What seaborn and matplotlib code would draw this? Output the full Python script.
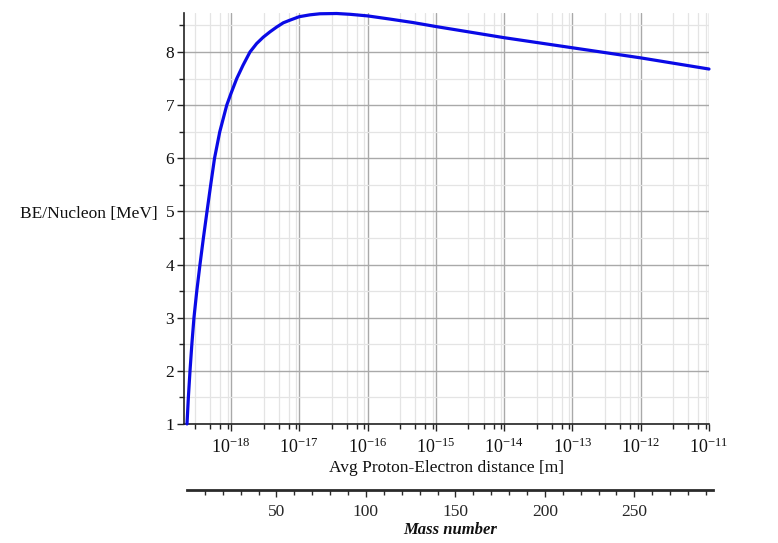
import numpy as np
import pandas as pd
import matplotlib
matplotlib.use("Agg")
import matplotlib.pyplot as plt
import seaborn as sns

# data (log10 of distance in m, BE per nucleon in MeV)
log_distance = [-18.644, -18.624, -18.600, -18.573, -18.542, -18.501, -18.454,
                -18.404, -18.351, -18.297, -18.241, -18.164, -18.062, -18.0,
                -17.916, -17.824, -17.722, -17.624, -17.527, -17.429, -17.331,
                -17.234, -17.136, -17.0, -16.843, -16.697, -16.452, -16.257,
                -16.0, -15.672, -15.335, -15.0, -14.5, -14.0, -13.5, -13.0,
                -12.5, -12.0, -11.5, -11.0]
be_per_nucleon = [1.0, 1.5, 2.0, 2.5, 3.0, 3.5, 4.0,
                  4.5, 5.0, 5.5, 6.0, 6.5, 7.0, 7.22,
                  7.5, 7.75, 8.0, 8.16, 8.28, 8.38, 8.47,
                  8.55, 8.60, 8.665, 8.70, 8.72, 8.725, 8.71,
                  8.68, 8.62, 8.555, 8.48, 8.375, 8.27, 8.175, 8.08,
                  7.985, 7.89, 7.785, 7.68]

decades = [-18, -17, -16, -15, -14, -13, -12, -11]
decade_labels = [r"$\mathrm{10^{-%d}}$" % abs(d) for d in decades]
y_ticks = [1, 2, 3, 4, 5, 6, 7, 8]
mass_ticks = [50, 100, 150, 200, 250]

sns.set_theme(style="white")
plt.rcParams["font.family"] = ["Liberation Serif", "DejaVu Serif"]
plt.rcParams["mathtext.fontset"] = "custom"
plt.rcParams["mathtext.rm"] = "Liberation Serif"
plt.rcParams["mathtext.it"] = "Liberation Serif:italic"

df = pd.DataFrame({"distance": np.power(10.0, log_distance), "be": be_per_nucleon})

fig = plt.figure(figsize=(7.78, 5.43), dpi=100)
ax = fig.add_axes([0.2365, 0.2192, 0.6748, 0.7574])

sns.lineplot(data=df, x="distance", y="be", ax=ax, color="#0a0ae6",
             linewidth=2.3, estimator=None, sort=False, zorder=5)
ax.lines[-1].set_solid_joinstyle("round")
ax.lines[-1].set_clip_on(False)

ax.set_xscale("log")
ax.set_xlim(10 ** -18.688, 1e-11)
ax.set_ylim(1, 8.74)

# ticks
minor_x = [m * 10.0 ** d for d in range(-19, -11) for m in (3, 5, 7, 9)]
minor_x = [v for v in minor_x if 10 ** -18.688 < v < 1e-11]
ax.set_xticks([10.0 ** d for d in decades], decade_labels)
ax.set_xticks(minor_x, minor=True)
ax.set_yticks(y_ticks, [str(t) for t in y_ticks])
ax.set_yticks(np.arange(1.5, 8.6, 1.0), minor=True)
ax.tick_params(axis="both", which="major", direction="out", length=5, width=1.0,
               color="#222222", labelsize=12.5, colors="#111111")
ax.tick_params(axis="both", which="minor", direction="out", length=3.5, width=1.0,
               color="#222222")
ax.tick_params(axis="x", which="both", bottom=True, pad=5)
ax.tick_params(axis="x", which="major", labelsize=13)
ax.tick_params(axis="y", which="both", left=True, pad=2)

# grid
ax.grid(True, which="minor", color="#e4e4e4", linewidth=0.9, zorder=0)
ax.grid(True, which="major", color="#a9a9a9", linewidth=1.0, zorder=1)
ax.set_axisbelow(True)

for s in ("top", "right"):
    ax.spines[s].set_visible(False)
for s in ("left", "bottom"):
    ax.spines[s].set_color("#222222")
    ax.spines[s].set_linewidth(1.2)

ax.set_xlabel("Avg Proton-Electron distance [m]", fontsize=12.5, labelpad=2, color="#111111")
ax.set_ylabel("BE/Nucleon [MeV]", fontsize=12.5, rotation=0, ha="right", va="center",
              color="#111111")
ax.yaxis.set_label_coords(-0.05, 0.51)

# mass number axis below
ax2 = fig.add_axes([0.2404, 0.0967, 0.6761, 0.0001])
ax2.set_xlim(0, 294)
ax2.set_yticks([])
ax2.set_xticks(mass_ticks, [str(t) for t in mass_ticks])
ax2.set_xticks(np.arange(10, 291, 10), minor=True)
for s in ("top", "right", "left"):
    ax2.spines[s].set_visible(False)
ax2.spines["bottom"].set_color("#2a2a2a")
ax2.spines["bottom"].set_linewidth(2.0)
ax2.tick_params(axis="x", which="major", direction="out", length=5, width=1.0,
                color="#2a2a2a", labelsize=12.5, pad=5, bottom=True)
ax2.tick_params(axis="x", which="minor", direction="out", length=3.5, width=1.0,
                color="#2a2a2a", bottom=True)
ax2.set_xlabel("Mass number", fontsize=12, fontweight="bold", fontstyle="italic",
               labelpad=1, color="#111111")
ax2.patch.set_visible(False)

fig.savefig("out.png", dpi=100)
